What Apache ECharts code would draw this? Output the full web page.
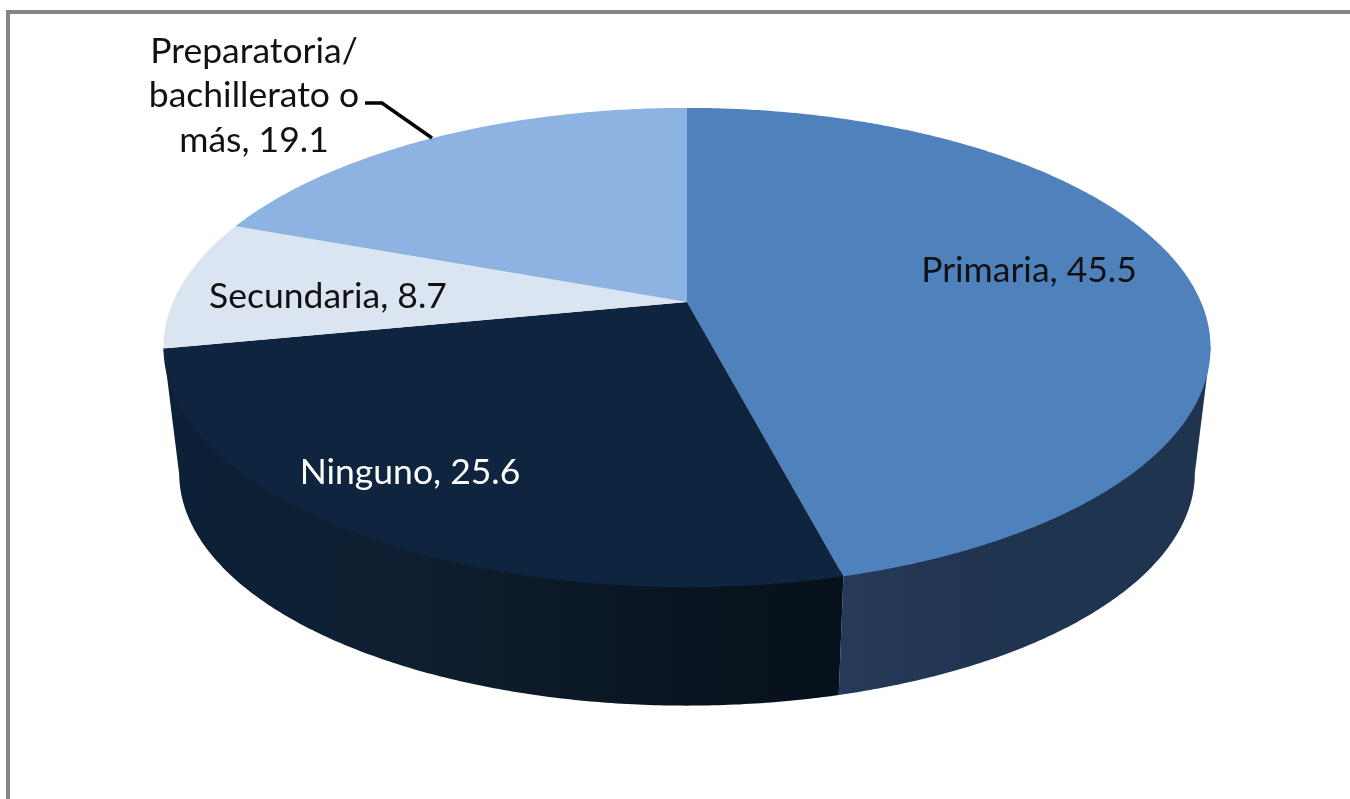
<!DOCTYPE html>
<html>
<head>
<meta charset="utf-8">
<style>
  html, body { margin: 0; padding: 0; background: #fff; }
  #main { width: 1350px; height: 799px; }
</style>
<script src="https://cdn.jsdelivr.net/npm/echarts@6/dist/echarts.min.js"></script>
</head>
<body>
<div id="main"></div>
<script>
var categories = ['Primaria', 'Ninguno', 'Secundaria', 'Preparatoria/\nbachillerato o\nmás']
var values = [45.5, 25.6, 8.7, 19.1]

var topColors = ['#4f81bd', '#0f243e', '#dbe5f1', '#8db3e2']
var labelColors = ['#111', '#fff', '#111', '#111']
var labelPlaces = [[1029, 271], [410, 473], [328, 297], [254, 96]]
var wallStops = [
  [[838, '#263a59'], [1000, '#1f344f'], [1210, '#1f344f']],
  [[164, '#0c2037'], [420, '#0e1f30'], [650, '#0a1521'], [838, '#07111b']]
]

// the pie is seen in perspective: circle point -> screen point
var cx = 687, cy = 302, A = 514, B = 231, K = 0.19
var wallShift = 127, wallScale = 0.97
var sum = values.reduce(function (a, b) { return a + b }, 0)

function rad(deg) { return deg * Math.PI / 180 }

function project(deg, wall) {
  var u = Math.sin(rad(deg)), v = -Math.cos(rad(deg)), d = 1 - K * v
  var s = wall ? wallScale : 1
  return [cx + s * A * u / d, cy + (wall ? wallShift : 0) + s * B * v / d]
}

function arc(from, to, wall) {
  var pts = []
  var n = Math.max(2, Math.ceil(Math.abs(to - from) * 2))
  for (var i = 0; i <= n; i++) pts.push(project(from + (to - from) * i / n, wall))
  return pts
}

// same rim pulled inwards, hidden under the top face so no seam shows
function hiddenRim(from, to) {
  return arc(from, to, false).map(function (p) {
    return [cx + (p[0] - cx) * 0.98, cy + (p[1] - cy) * 0.98]
  })
}

// angle range of the visible outer wall
var frontFrom = 101, frontTo = 259

function renderSlice(params, api) {
  var i = params.dataIndex
  var before = 0
  for (var j = 0; j < i; j++) before += values[j]
  var start = before / sum * 360
  var end = (before + api.value(0)) / sum * 360
  var children = []

  var wFrom = Math.max(start, frontFrom), wTo = Math.min(end, frontTo)
  if (wTo > wFrom && wallStops[i]) {
    var stops = wallStops[i]
    var x0 = stops[0][0], x1 = stops[stops.length - 1][0]
    var points = hiddenRim(wFrom, wTo)
      .concat([project(wTo, false)])
      .concat(arc(wTo, wFrom, true))
      .concat([project(wFrom, false)])
    children.push({
      type: 'polygon',
      z2: 1,
      shape: { points: points },
      style: {
        fill: new echarts.graphic.LinearGradient(x0, 0, x1, 0, stops.map(function (s) {
          return { offset: (s[0] - x0) / (x1 - x0), color: s[1] }
        }), true)
      }
    })
  }

  children.push({
    type: 'polygon',
    z2: 2,
    shape: { points: [[cx, cy]].concat(arc(start, end, false)) },
    style: { fill: topColors[i] }
  })

  children.push({
    type: 'text',
    z2: 3,
    x: labelPlaces[i][0],
    y: labelPlaces[i][1],
    style: {
      text: categories[i] + ', ' + api.value(0).toFixed(1),
      fill: labelColors[i],
      font: '35.5px Lato',
      lineHeight: 44.5,
      align: 'center',
      verticalAlign: 'middle'
    }
  })

  return { type: 'group', children: children }
}

var myChart = echarts.init(document.querySelector('#main'))

var option = {
  animation: false,
  graphic: [
    { type: 'rect', shape: { x: 8, y: 12, width: 1400, height: 900 }, style: { fill: 'none', stroke: '#868686', lineWidth: 4 } },
    { type: 'polyline', z: 10, shape: { points: [[365, 103], [382, 103], [432, 138]] }, style: { fill: 'none', stroke: '#000', lineWidth: 3.5 } }
  ],
  series: [{
    type: 'custom',
    coordinateSystem: 'none',
    silent: true,
    renderItem: renderSlice,
    data: values.map(function (v) { return [v] })
  }]
}

myChart.setOption(option)
</script>
</body>
</html>
